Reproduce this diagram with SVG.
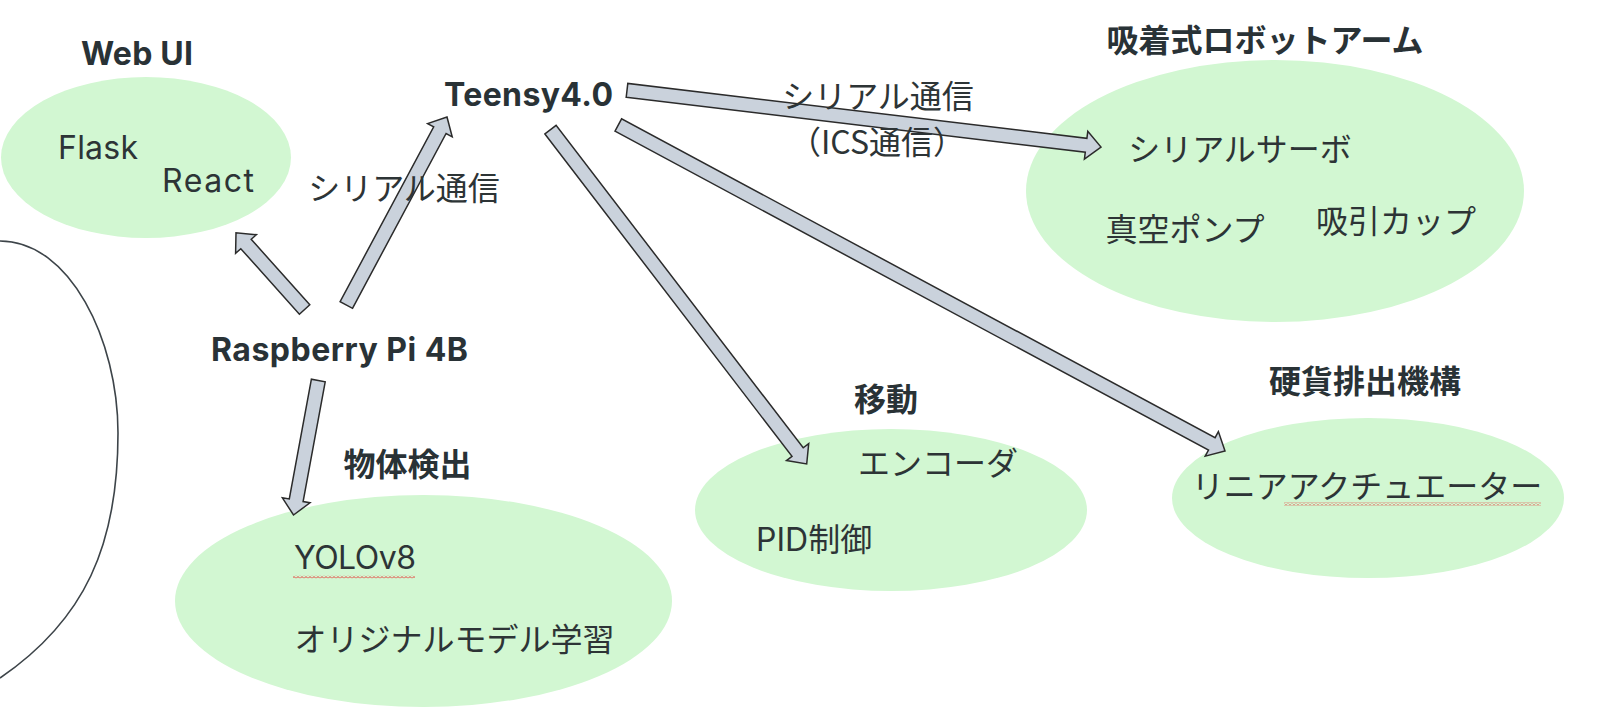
<svg xmlns="http://www.w3.org/2000/svg" width="1612" height="718" viewBox="0 0 1612 718">
<defs>
<style>
.bg{fill:#ffffff}
.ell{fill:#d2f7d2}
.ttl{font-family:Inter,"Noto Sans CJK JP",sans-serif;font-weight:700;font-size:32px;fill:#293236}
.txt{font-family:Inter,"Noto Sans CJK JP",sans-serif;font-weight:400;font-size:32px;fill:#2d3436}
.jp{font-family:"Noto Sans CJK JP",sans-serif}
.mid{text-anchor:middle}
.arr{fill:#cad2dc;stroke:#2b2b2b;stroke-width:1.5;stroke-linejoin:miter}
.arc{fill:none;stroke:#3d4449;stroke-width:1.6}
</style>
<pattern id="squiggle" x="0" y="0" width="4" height="3" patternUnits="userSpaceOnUse">
<polyline points="0,2.5 2,0.5 4,2.5" fill="none" stroke="#e53935" stroke-width="1"/>
</pattern>
</defs>
<rect class="bg" x="0" y="0" width="1612" height="718"/>

<path class="arc" d="M0,241 C70,241 118,340 118,433 C118,545 85,620 0,678"/>

<g id="node-webui">
<ellipse class="ell" cx="146" cy="157.5" rx="145" ry="80.5"/>
<text class="ttl" x="81" y="65" textLength="112">Web UI</text>
<text class="txt" x="58" y="159" textLength="80">Flask</text>
<text class="txt" x="162" y="192" textLength="92">React</text>
</g>

<g id="node-teensy">
<text class="ttl" x="444" y="106" textLength="169">Teensy4.0</text>
</g>

<g id="node-raspi">
<text class="ttl" x="211" y="361" textLength="257">Raspberry Pi 4B</text>
</g>

<g id="node-robotarm">
<ellipse class="ell" cx="1275" cy="191" rx="249" ry="131"/>
<text class="ttl jp mid" x="1265" y="52">吸着式ロボットアーム</text>
<text class="txt jp mid" x="1240" y="161">シリアルサーボ</text>
<text class="txt jp mid" x="1185" y="241">真空ポンプ</text>
<text class="txt jp mid" x="1396" y="233">吸引カップ</text>
</g>

<g id="node-move">
<ellipse class="ell" cx="891" cy="510" rx="196" ry="81"/>
<text class="ttl jp mid" x="886" y="411">移動</text>
<text class="txt jp mid" x="938" y="475">エンコーダ</text>
<text class="txt" x="756" y="551">PID制御</text>
</g>

<g id="node-coin">
<ellipse class="ell" cx="1368" cy="498" rx="196" ry="80"/>
<text class="ttl jp mid" x="1365" y="393">硬貨排出機構</text>
<text class="txt jp mid" x="1367" y="498">リニアアクチュエーター</text>
<rect x="1284" y="502.5" width="257" height="3" fill="url(#squiggle)"/>
</g>

<g id="node-detect">
<ellipse class="ell" cx="423.5" cy="601" rx="248.5" ry="106"/>
<text class="ttl jp mid" x="407.5" y="476">物体検出</text>
<text class="txt" x="294" y="569" textLength="122">YOLOv8</text>
<rect x="293" y="575.5" width="122" height="3" fill="url(#squiggle)"/>
<text class="txt jp mid" x="454.5" y="651">オリジナルモデル学習</text>
</g>

<g id="connectors">
<polygon class="arr" points="309.8,304.8 251.2,239.3 256.4,234.7 236,232.8 235.6,253.3 240.8,248.7 299.4,314.2"/>
<polygon class="arr" points="352.5,308.3 446.1,133.5 452.2,136.8 447,117 427.6,123.6 433.7,126.9 340.1,301.7"/>
<polygon class="arr" points="311.4,379.2 289.3,499.0 282.4,497.8 293.5,515 310.0,502.8 303.1,501.6 325.2,381.8"/>
<polygon class="arr" points="626.2,97.3 1085.3,152.2 1084.4,159.1 1101,147 1087.8,131.3 1086.9,138.3 627.8,83.4"/>
<polygon class="arr" points="544.9,134.0 792.0,456.4 786.5,460.6 806.7,464 808.7,443.6 803.2,447.8 556.1,125.4"/>
<polygon class="arr" points="615.0,131.2 1208.5,450.1 1205.2,456.2 1225,451 1218.4,431.6 1215.1,437.7 621.6,118.8"/>
</g>

<g id="edge-labels">
<text class="txt jp mid" x="404" y="200">シリアル通信</text>
<text class="txt jp mid"><tspan x="878" y="108">シリアル通信</tspan><tspan x="877" y="154">（ICS通信）</tspan></text>
</g>
</svg>
